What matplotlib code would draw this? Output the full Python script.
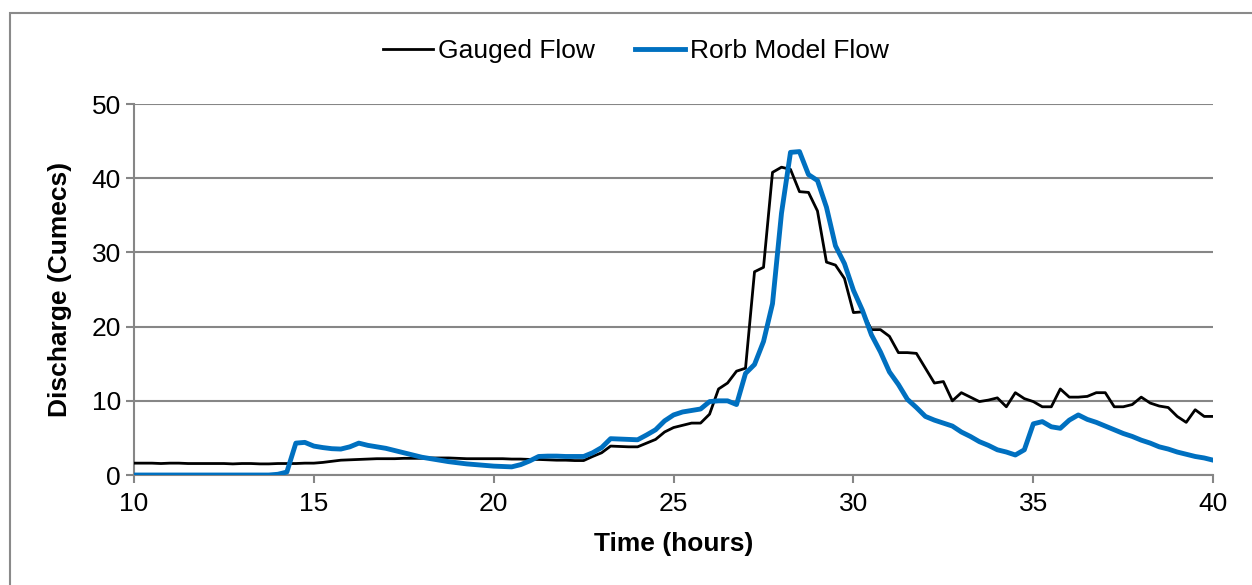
import numpy as np
from matplotlib import pyplot as plt
from matplotlib.patches import Rectangle

plt.rcParams['font.family'] = ['Liberation Sans', 'DejaVu Sans']

# time axis, 15 minute steps from 10 to 40 hours
hours = np.arange(10, 40.01, 0.25)

gauged_flow = [
    1.6, 1.6, 1.6, 1.55,
    1.6, 1.6, 1.55, 1.55,
    1.55, 1.55, 1.55, 1.5,
    1.55, 1.55, 1.5, 1.5,
    1.55, 1.55, 1.55, 1.6,
    1.6, 1.7, 1.85, 2.0,
    2.05, 2.1, 2.15, 2.2,
    2.2, 2.2, 2.25, 2.25,
    2.25, 2.3, 2.3, 2.3,
    2.25, 2.2, 2.2, 2.2,
    2.2, 2.2, 2.15, 2.15,
    2.1, 2.1, 2.05, 2.0,
    2.0, 1.95, 1.95, 2.5,
    3.0, 3.9, 3.85, 3.8,
    3.8, 4.3, 4.8, 5.8,
    6.4, 6.7, 7.0, 7.0,
    8.2, 11.6, 12.4, 14.0,
    14.4, 27.4, 28.0, 40.8,
    41.5, 41.2, 38.2, 38.1,
    35.6, 28.7, 28.3, 26.5,
    21.9, 22.0, 19.6, 19.6,
    18.7, 16.5, 16.5, 16.4,
    14.4, 12.4, 12.6, 10.0,
    11.1, 10.5, 9.9, 10.1,
    10.4, 9.2, 11.1, 10.3,
    9.9, 9.2, 9.2, 11.6,
    10.5, 10.5, 10.6, 11.1,
    11.1, 9.2, 9.2, 9.5,
    10.5, 9.7, 9.3, 9.1,
    7.9, 7.1, 8.8, 7.9,
    7.9,
]

rorb_flow = [
    0.0, 0.0, 0.0, 0.0,
    0.0, 0.0, 0.0, 0.0,
    0.0, 0.0, 0.0, 0.0,
    0.0, 0.0, 0.0, 0.0,
    0.1, 0.4, 4.3, 4.4,
    3.9, 3.7, 3.55, 3.5,
    3.8, 4.3, 4.0, 3.8,
    3.6, 3.3, 3.0, 2.7,
    2.4, 2.2, 2.0, 1.8,
    1.65, 1.5, 1.4, 1.3,
    1.2, 1.15, 1.1, 1.4,
    1.9, 2.5, 2.55, 2.55,
    2.5, 2.5, 2.5, 3.0,
    3.7, 4.9, 4.85, 4.8,
    4.75, 5.4, 6.1, 7.3,
    8.1, 8.5, 8.7, 8.9,
    9.9, 10.0, 10.0, 9.5,
    13.7, 14.9, 18.0, 23.1,
    35.3, 43.5, 43.6, 40.5,
    39.7, 36.1, 30.9, 28.5,
    24.9, 22.2, 18.9, 16.6,
    13.9, 12.2, 10.2, 9.1,
    7.9, 7.4, 7.0, 6.6,
    5.8, 5.2, 4.5, 4.0,
    3.4, 3.1, 2.7, 3.4,
    6.9, 7.2, 6.5, 6.3,
    7.4, 8.1, 7.5, 7.1,
    6.6, 6.1, 5.6, 5.2,
    4.7, 4.3, 3.8, 3.5,
    3.1, 2.8, 2.5, 2.3,
    2.0,
]

grey = '#868686'

fig = plt.figure(figsize=(12.52, 5.85), dpi=100)
ax = fig.add_axes([0.107, 0.188, 0.862, 0.634])

ax.plot(hours, gauged_flow, color='black', lw=2.0, label='Gauged Flow', zorder=3)
ax.plot(hours, rorb_flow, color='#0070C0', lw=3.5, label='Rorb Model Flow', zorder=4)

ax.set_xlim(10, 40)
ax.set_ylim(0, 50)
ax.set_xticks([10, 15, 20, 25, 30, 35, 40])
ax.set_yticks([0, 10, 20, 30, 40, 50])
ax.yaxis.grid(True, color=grey, lw=1.5)
ax.set_axisbelow(True)
for side in ['top', 'right']:
    ax.spines[side].set_visible(False)
for side in ['left', 'bottom']:
    ax.spines[side].set_color(grey)
    ax.spines[side].set_linewidth(1.5)
ax.tick_params(axis='both', colors=grey, labelcolor='black', labelsize=19,
               length=6, width=1.5, direction='out')
ax.tick_params(axis='x', pad=6)

ax.set_xlabel('Time (hours)', fontsize=19, fontweight='bold', labelpad=12)
ax.set_ylabel('Discharge (Cumecs)', fontsize=19, fontweight='bold', labelpad=14)

fig.legend(loc='center', bbox_to_anchor=(0.508, 0.913), ncol=2, frameon=False,
           fontsize=19, handlelength=1.9, handletextpad=0.2, columnspacing=1.5)

fig.patches.append(Rectangle((10 / 1252, -0.1), 1.2, 0.1 + 1 - 13 / 585,
                             transform=fig.transFigure, fill=False,
                             edgecolor='#8a8a8a', lw=1.5))

plt.savefig('out.png')
